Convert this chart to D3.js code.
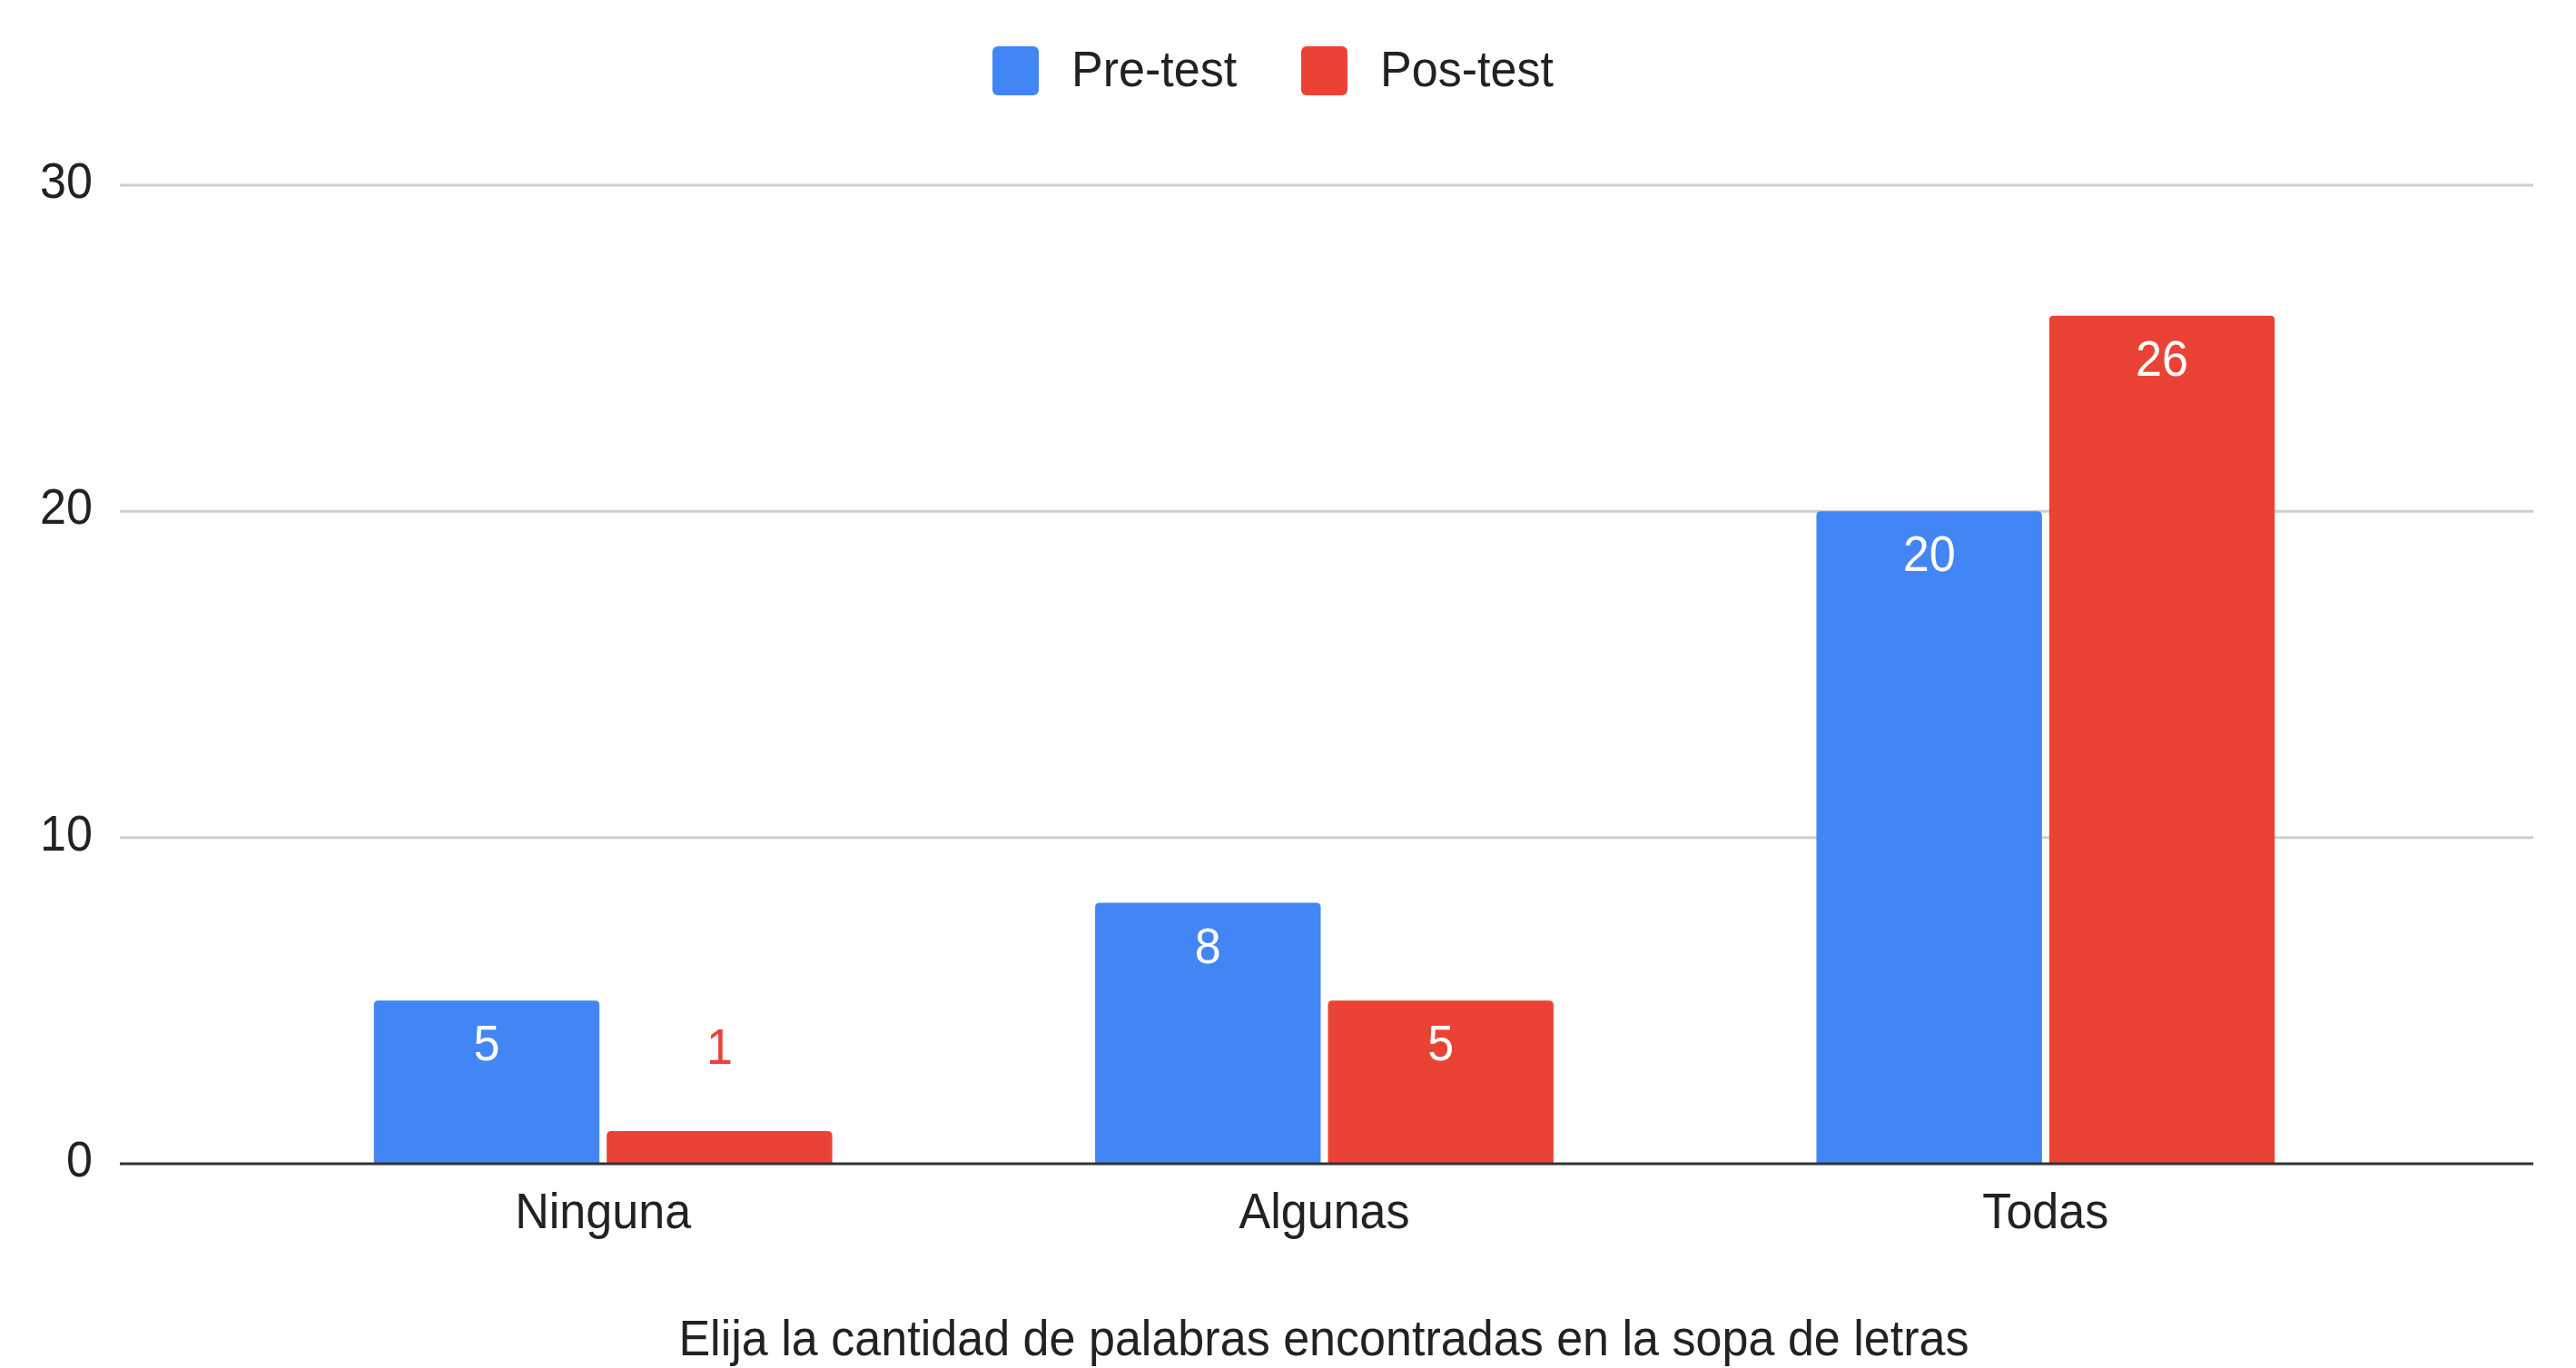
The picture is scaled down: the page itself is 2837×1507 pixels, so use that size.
<!DOCTYPE html>
<html>
<head>
<meta charset="utf-8">
<script src="https://cdn.jsdelivr.net/npm/d3@7"></script>
<style>
  html, body { margin: 0; padding: 0; background: #fff; }
  svg { display: block; }
  text { font-family: "Liberation Sans", Arial, sans-serif; }
</style>
</head>
<body>
<svg id="chart" width="2837" height="1507"></svg>
<script>
const categories = ["Ninguna", "Algunas", "Todas"];
const seriesNames = ["Pre-test", "Pos-test"];
const preTest = [5, 8, 20];
const posTest = [1, 5, 26];
const yTicks = [0, 10, 20, 30];
const axisTitle = "Elija la cantidad de palabras encontradas en la sopa de letras";
const colors = ["#4285F4", "#EA4335"];

const W = 2837, H = 1507;
const gridLeft = 132, gridRight = 2790;
const sx = 0.93; // horizontal text compression seen in the reference

const svg = d3.select("#chart");

const y = d3.scaleLinear().domain([0, 30]).range([1282, 204]);
const x0 = d3.scaleBand().domain(categories).range([267, 2650])
  .paddingInner(0.3645).paddingOuter(0.18225);
const x1 = d3.scaleBand().domain(seriesNames).range([0, x0.bandwidth()])
  .paddingInner(0.0312).paddingOuter(0);

const data = categories.map((c, i) => ({
  cat: c,
  vals: [{ s: seriesNames[0], v: preTest[i], ci: 0 }, { s: seriesNames[1], v: posTest[i], ci: 1 }]
}));

// gridlines
svg.append("g").selectAll("line").data(yTicks.filter(t => t !== 0)).join("line")
  .attr("x1", gridLeft).attr("x2", gridRight)
  .attr("y1", d => y(d)).attr("y2", d => y(d))
  .attr("stroke", "#cfcfcf").attr("stroke-width", 3);

// y tick labels
svg.append("g").selectAll("g").data(yTicks).join("g")
  .attr("transform", d => `translate(102,${y(d) + 14}) scale(${sx},1)`)
  .append("text")
  .attr("text-anchor", "end")
  .attr("font-size", 56)
  .attr("fill", "#222")
  .text(d => d);

// bars with rounded top corners
function topRounded(x, yTop, w, h, r) {
  r = Math.min(r, h, w / 2);
  return `M${x},${yTop + h}V${yTop + r}Q${x},${yTop} ${x + r},${yTop}H${x + w - r}Q${x + w},${yTop} ${x + w},${yTop + r}V${yTop + h}Z`;
}

const groups = svg.append("g").selectAll("g").data(data).join("g")
  .attr("transform", d => `translate(${x0(d.cat)},0)`);

groups.selectAll("path").data(d => d.vals).join("path")
  .attr("d", d => topRounded(x1(d.s), y(d.v), x1.bandwidth(), y(0) - y(d.v), 5))
  .attr("fill", d => colors[d.ci]);

// value labels
groups.selectAll("g.lbl").data(d => d.vals).join("g")
  .attr("class", "lbl")
  .attr("transform", d => {
    const h = y(0) - y(d.v);
    const ly = h < 80 ? y(d.v) - 74 : y(d.v) + 66;
    return `translate(${x1(d.s) + x1.bandwidth() / 2},${ly}) scale(${sx},1)`;
  })
  .append("text")
  .attr("text-anchor", "middle")
  .attr("font-family", "Roboto, sans-serif")
  .attr("font-size", 56)
  .attr("fill", d => (y(0) - y(d.v) < 80) ? colors[d.ci] : "#ffffff")
  .text(d => d.v);

// baseline
svg.append("line")
  .attr("x1", gridLeft).attr("x2", gridRight)
  .attr("y1", y(0)).attr("y2", y(0))
  .attr("stroke", "#333").attr("stroke-width", 3);

// category labels
svg.append("g").selectAll("g").data(categories).join("g")
  .attr("transform", d => `translate(${x0(d) + x0.bandwidth() / 2},1353) scale(${sx},1)`)
  .append("text")
  .attr("text-anchor", "middle")
  .attr("font-size", 56)
  .attr("fill", "#222")
  .text(d => d);

// axis title
svg.append("g")
  .attr("transform", `translate(1458,1493) scale(${sx},1)`)
  .append("text")
  .attr("text-anchor", "middle")
  .attr("font-size", 56)
  .attr("fill", "#222")
  .text(axisTitle);

// legend
const legendItems = [
  { name: seriesNames[0], color: colors[0], sqX: 1093, txX: 1180 },
  { name: seriesNames[1], color: colors[1], sqX: 1433, txX: 1520 }
];
const lg = svg.append("g").selectAll("g").data(legendItems).join("g");
lg.append("rect")
  .attr("x", d => d.sqX).attr("y", 51).attr("width", 51).attr("height", 54)
  .attr("rx", 6).attr("fill", d => d.color);
lg.append("g")
  .attr("transform", d => `translate(${d.txX},95) scale(${sx},1)`)
  .append("text")
  .attr("font-size", 56)
  .attr("fill", "#222")
  .text(d => d.name);
</script>
</body>
</html>
